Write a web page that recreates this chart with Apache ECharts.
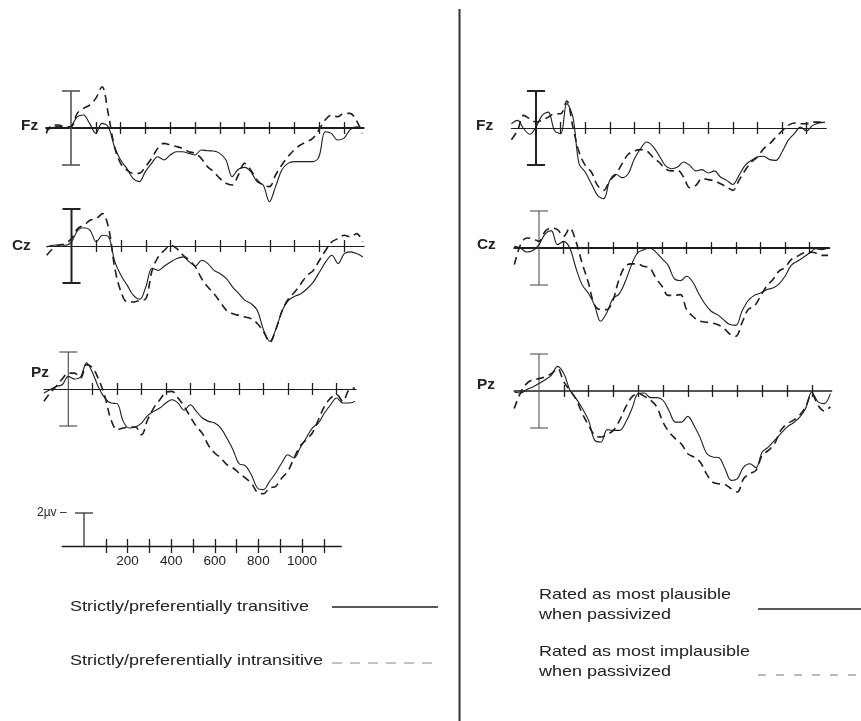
<!DOCTYPE html>
<html>
<head>
<meta charset="utf-8">
<script src="https://cdn.jsdelivr.net/npm/echarts@6/dist/echarts.min.js"></script>
<style>html,body{margin:0;padding:0;background:#fff}#c{width:861px;height:721px}</style>
</head>
<body>
<div id="c"></div>
<script>
// ---- data (ms, µV) ----
const times = [-100,-75,-50,-25,0,25,50,75,100,125,150,175,200,225,250,275,300,325,350,375,400,425,450,475,500,525,550,575,600,625,650,675,700,725,750,775,800,825,850,875,900,925,950,975,1000,1025,1050,1075,1100,1125,1150,1175];
const tickTimes = [100,200,300,400,500,600,700,800,900,1000,1100];
const scaleLabels = [200,400,600,800,1000];
const calibRange = [-2, 2];
const scaleBarRange = [0, 2];

const leftFzSolid = [-0.1,0,0.1,0,0.1,0.6,0.7,0.25,-0.29,0.25,0.07,-1.0,-1.73,-2.18,-2.72,-2.9,-2.36,-1.91,-1.55,-1.73,-1.46,-1.28,-1.28,-1.37,-1.46,-1.19,-1.23,-1.24,-1.37,-1.73,-2.63,-2.23,-2.13,-2.36,-2.9,-3.08,-3.98,-3.17,-2.27,-1.91,-1.82,-1.82,-1.82,-1.82,-1.55,-0.2,-0.29,-0.65,-0.56,-0.1,0.07,0];
const leftFzDashed = [-0.29,0.16,0.16,0.07,0.07,0.79,1.06,1.24,1.6,2.23,0.79,-1.0,-1.91,-2.27,-2.45,-2.45,-2.09,-1.64,-1.1,-0.83,-0.92,-1.0,-1.1,-1.28,-1.37,-1.64,-2.09,-2.36,-2.72,-2.99,-3.08,-2.54,-1.91,-2.27,-2.81,-3.08,-3.17,-2.54,-2.0,-1.55,-1.19,-0.92,-0.74,-0.56,-0.1,0.43,0.7,0.61,0.79,0.79,0.43,-0.29];
const leftCzSolid = [-0.05,0.04,0.07,0.04,0.22,0.85,0.99,0.85,0.22,0.58,0.49,-0.86,-1.59,-2.13,-2.67,-2.88,-2.2,-1.2,-1.32,-1.08,-0.86,-0.68,-0.59,-0.86,-1.08,-0.77,-0.95,-1.32,-1.5,-1.77,-2.22,-2.58,-2.94,-3.12,-3.5,-4.56,-5.15,-4.47,-3.48,-2.94,-2.72,-2.58,-2.31,-1.95,-1.41,-0.86,-0.5,-0.95,-0.41,-0.32,-0.41,-0.59];
const leftCzDashed = [-0.5,-0.14,0.04,0.13,0.4,0.94,1.12,1.39,1.48,1.75,0.94,-1.23,-2.49,-3.03,-3.03,-2.94,-2.85,-1.32,-0.59,-0.23,0.04,-0.14,-0.5,-0.77,-1.14,-1.77,-2.22,-2.58,-3.03,-3.48,-3.66,-3.75,-3.84,-3.93,-4.2,-4.65,-5.19,-4.47,-3.48,-2.85,-2.49,-2.04,-1.59,-1.32,-0.77,-0.23,0.22,0.4,0.58,0.49,0.67,0.22];
const leftPzSolid = [-0.22,-0.04,0.14,0.23,0.68,0.54,0.65,1.41,0.86,0.05,-0.49,-0.76,-0.79,-1.75,-2.11,-2.05,-1.84,-1.44,-1.21,-1.03,-0.76,-0.58,-0.76,-1.15,-0.85,-1.21,-1.57,-1.75,-1.84,-2.11,-2.65,-3.28,-4.04,-4.14,-4.63,-5.35,-5.44,-4.99,-4.54,-4.0,-3.55,-3.73,-3.19,-2.65,-2.11,-1.84,-1.3,-0.85,-0.49,-0.76,-0.76,-0.67];
const leftPzDashed = [-0.67,-0.22,0.14,0.54,0.86,0.86,0.59,1.32,1.14,0.5,-0.4,-1.66,-2.2,-2.11,-2.05,-2.05,-2.47,-1.66,-1.03,-0.58,-0.18,-0.13,-0.49,-0.94,-1.51,-2.02,-2.41,-3.06,-3.46,-3.73,-4.09,-4.27,-4.54,-4.81,-5.08,-5.59,-5.66,-5.35,-5.26,-4.81,-4.45,-3.73,-3.1,-2.74,-2.38,-1.66,-0.94,-0.49,-0.31,-0.67,-0.04,0.05];
const rightFzSolid = [0.23,0.41,-0.04,-0.34,0.05,0.68,0.86,-0.13,-0.31,1.32,0.59,-1.93,-2.38,-3.01,-3.64,-3.82,-2.83,-2.5,-2.68,-2.47,-1.66,-1.12,-0.76,-0.99,-1.48,-2.02,-2.2,-2.11,-1.84,-2.02,-2.32,-2.25,-2.43,-2.32,-2.65,-2.83,-3.05,-2.56,-2.02,-1.75,-1.57,-1.53,-1.71,-1.75,-1.3,-0.67,-0.31,0.05,-0.16,0.14,0.27,0.32];
const rightFzDashed = [-0.63,-0.13,0.68,0.5,0.32,0.41,0.59,0.77,0.77,1.46,0.05,-1.3,-2.02,-2.38,-3.1,-3.37,-2.83,-2.5,-1.93,-1.42,-1.24,-1.17,-1.24,-1.57,-1.84,-2.2,-2.32,-2.29,-2.65,-3.23,-3.1,-2.74,-2.79,-2.86,-3.01,-3.19,-3.37,-2.83,-2.29,-1.84,-1.57,-1.12,-0.85,-0.49,-0.16,0.14,0.27,0.23,0.23,0.32,0.32,0.27];
const rightCzSolid = [0.09,0,-0.22,-0.14,0.18,0.76,0.94,0.18,0.36,0,-1.08,-1.98,-2.43,-3.06,-3.96,-3.51,-2.74,-2.49,-1.84,-0.94,-0.27,-0.09,0,-0.22,-0.58,-0.94,-1.66,-1.77,-1.53,-1.84,-2.49,-3.03,-3.42,-3.6,-3.87,-4.14,-4.18,-3.42,-2.85,-2.56,-2.43,-2.25,-2.16,-1.95,-1.53,-0.94,-0.72,-0.5,-0.27,-0.04,-0.09,0];
const rightCzDashed = [-0.9,0.18,0.54,0.5,0.36,0.9,1.08,0.99,0.63,1.08,0.36,-0.81,-1.84,-3.06,-3.33,-3.33,-2.85,-1.71,-0.99,-0.86,-0.86,-0.99,-1.08,-1.62,-2.07,-2.56,-2.56,-2.52,-3.33,-3.69,-3.93,-4.0,-4.05,-4.14,-4.32,-4.65,-4.77,-4.05,-3.33,-3.15,-2.61,-2.07,-1.71,-1.26,-1.05,-0.63,-0.45,-0.27,-0.22,-0.27,-0.4,-0.4];
const rightPzSolid = [-0.05,-0.11,0.07,0.22,0.4,0.61,0.85,1.33,0.94,0.04,-0.41,-0.95,-1.59,-2.67,-2.76,-2.09,-2.13,-2.13,-1.68,-0.95,-0.14,-0.11,-0.36,-0.36,-0.5,-1.08,-1.68,-1.68,-1.37,-1.86,-2.52,-3.35,-3.57,-3.6,-4.2,-4.83,-4.74,-4.11,-3.93,-4.14,-3.3,-3.03,-2.67,-2.31,-1.95,-1.73,-1.44,-0.95,-0.05,-0.59,-0.68,-0.14];
const rightPzDashed = [-0.95,-0.11,0.4,0.61,0.67,0.76,0.94,1.21,0.49,0.04,-0.47,-1.23,-1.86,-2.4,-2.49,-2.34,-2.13,-1.59,-0.86,-0.32,-0.14,-0.29,-0.5,-0.86,-1.68,-2.22,-2.58,-2.88,-3.39,-3.57,-3.84,-4.47,-4.92,-5.01,-5.05,-5.28,-5.46,-4.74,-4.47,-4.29,-3.48,-3.21,-2.85,-2.13,-1.77,-1.59,-1.32,-0.86,-0.14,-0.77,-1.08,-0.86];

const leftLegend = ['Strictly/preferentially transitive', 'Strictly/preferentially intransitive'];
const rightLegend = [['Rated as most plausible', 'when passivized'], ['Rated as most implausible', 'when passivized']];

// ---- layout ----
const INK = '#1e1e1e';
const panels = [
  {label:'Fz', solid:leftFzSolid,  dashed:leftFzDashed,  left:46.2, width:317.4, top:72.5,  lx:21,  ly:126, axisW:2.0, barW:1.6, barC:'#555'},
  {label:'Cz', solid:leftCzSolid,  dashed:leftCzDashed,  left:46.7, width:317.4, top:190.5, lx:12,  ly:246, axisW:1.2, barW:2.0, barC:'#222'},
  {label:'Pz', solid:leftPzSolid,  dashed:leftPzDashed,  left:43.9, width:312.3, top:333.5, lx:31,  ly:373, axisW:1.2, barW:1.1, barC:'#444'},
  {label:'Fz', solid:rightFzSolid, dashed:rightFzDashed, left:511.4,width:314.9, top:72.5,  lx:476, ly:126, axisW:1.2, barW:2.0, barC:'#222'},
  {label:'Cz', solid:rightCzSolid, dashed:rightCzDashed, left:514.4,width:314.9, top:192.5, lx:477, ly:245, axisW:2.0, barW:1.1, barC:'#555'},
  {label:'Pz', solid:rightPzSolid, dashed:rightPzDashed, left:514.2,width:317.4, top:335.5, lx:477, ly:385, axisW:1.5, barW:1.1, barC:'#555'}
];
const K = 18.5; // px per µV
const yMin = -7, yMax = 3;

const grid = [], xAxis = [], yAxis = [], series = [];
const pairs = arr => times.map((t, i) => [t, arr[i]]);

function barRender(capTop, capBottom, color, w) {
  return function (params, api) {
    const x = api.value(0);
    const lo = api.coord([x, api.value(1)]);
    const hi = api.coord([x, api.value(2)]);
    const c = 9;
    const style = {stroke: color, lineWidth: w};
    const ch = [{type:'line', shape:{x1:lo[0], y1:lo[1], x2:hi[0], y2:hi[1]}, style}];
    if (capTop) ch.push({type:'line', shape:{x1:hi[0]-c, y1:hi[1], x2:hi[0]+c, y2:hi[1]}, style});
    if (capBottom) ch.push({type:'line', shape:{x1:lo[0]-c, y1:lo[1], x2:lo[0]+c, y2:lo[1]}, style});
    return {type:'group', children: ch};
  };
}

// two x axes per grid (ticks down + ticks up), each anchored on zero of its own y axis
function addAxes(gi, yLo, yHi, lineW, tickLen, labelOpt) {
  const yA = yAxis.length;
  yAxis.push({gridIndex:gi, type:'value', min:yLo, max:yHi, show:false, position:'left', splitLine:{show:false}});
  yAxis.push({gridIndex:gi, type:'value', min:yLo, max:yHi, show:false, position:'right', splitLine:{show:false}});
  const xA = xAxis.length;
  xAxis.push({
    gridIndex:gi, type:'value', min:-100, max:1180, position:'bottom',
    axisLine:{show:true, onZero:true, onZeroAxisIndex:yA, lineStyle:{color:INK, width:lineW}},
    axisTick:{show:true, inside:false, length:tickLen, customValues:tickTimes, lineStyle:{color:INK, width:1.3}},
    axisLabel: labelOpt || {show:false}, splitLine:{show:false}
  });
  xAxis.push({
    gridIndex:gi, type:'value', min:-100, max:1180, position:'top',
    axisLine:{show:false, onZero:true, onZeroAxisIndex:yA + 1},
    axisTick:{show:true, inside:false, length:tickLen, customValues:tickTimes, lineStyle:{color:INK, width:1.3}},
    axisLabel:{show:false}, splitLine:{show:false}
  });
  return {xA, yA};
}

panels.forEach((p, i) => {
  grid.push({left:p.left, top:p.top, width:p.width, height:(yMax - yMin) * K, containLabel:false, outerBoundsMode:'none'});
  const {xA, yA} = addAxes(i, yMin, yMax, p.axisW, 6, null);
  series.push({type:'line', xAxisIndex:xA, yAxisIndex:yA, data:pairs(p.solid), showSymbol:false, smooth:0.35,
    lineStyle:{color:INK, width:1.1}, silent:true, z:3});
  series.push({type:'line', xAxisIndex:xA, yAxisIndex:yA, data:pairs(p.dashed), showSymbol:false, smooth:0.35,
    lineStyle:{color:INK, width:1.6, type:[8,5]}, silent:true, z:3});
  series.push({type:'custom', xAxisIndex:xA, yAxisIndex:yA, data:[[0, calibRange[0], calibRange[1]]],
    renderItem: barRender(true, true, p.barC, p.barW), silent:true, z:2});
});

// scale bar grid
const si = panels.length;
grid.push({left:62.2, top:513, width:279, height:33, containLabel:false, outerBoundsMode:'none'});
const sc = addAxes(si, scaleBarRange[0], scaleBarRange[1], 1.4, 7,
  {show:true, customValues:scaleLabels, margin:8, color:'#222', fontSize:13.5,
   fontFamily:'Liberation Sans, Arial, sans-serif', formatter: v => String(v)});
series.push({type:'custom', xAxisIndex:sc.xA, yAxisIndex:sc.yA, data:[[0, scaleBarRange[0], scaleBarRange[1]]],
  renderItem: barRender(true, false, '#333', 1.3), silent:true});

// ---- graphic: labels, legends, divider ----
const FONT = 'Liberation Sans, Arial, Helvetica, sans-serif';
const graphic = [];
graphic.push({type:'line', shape:{x1:459.5, y1:9, x2:459.5, y2:721}, style:{stroke:'#333', lineWidth:2}});
panels.forEach(p => {
  graphic.push({type:'text', x:p.lx, y:p.ly, scaleX:1.1,
    style:{text:p.label, font:'bold 14px ' + FONT, fill:'#222', verticalAlign:'middle'}});
});
graphic.push({type:'text', x:37, y:513, style:{text:'2\u00b5v \u2013', font:'12px ' + FONT, fill:'#222', verticalAlign:'middle'}});
// left legend
graphic.push({type:'text', x:70, y:607, scaleX:1.2, style:{text:leftLegend[0], font:'15px ' + FONT, fill:'#222', verticalAlign:'middle'}});
graphic.push({type:'line', shape:{x1:332, y1:607, x2:438, y2:607}, style:{stroke:'#222', lineWidth:1.3}});
graphic.push({type:'text', x:70, y:661, scaleX:1.2, style:{text:leftLegend[1], font:'15px ' + FONT, fill:'#222', verticalAlign:'middle'}});
graphic.push({type:'line', shape:{x1:332, y1:663, x2:440, y2:663}, style:{stroke:'#888', lineWidth:1.1, lineDash:[10,8]}});
// right legend
graphic.push({type:'text', x:539, y:595, scaleX:1.2, style:{text:rightLegend[0][0], font:'15px ' + FONT, fill:'#222', verticalAlign:'middle'}});
graphic.push({type:'text', x:539, y:615, scaleX:1.2, style:{text:rightLegend[0][1], font:'15px ' + FONT, fill:'#222', verticalAlign:'middle'}});
graphic.push({type:'line', shape:{x1:758, y1:609, x2:861, y2:609}, style:{stroke:'#222', lineWidth:1.3}});
graphic.push({type:'text', x:539, y:652, scaleX:1.2, style:{text:rightLegend[1][0], font:'15px ' + FONT, fill:'#222', verticalAlign:'middle'}});
graphic.push({type:'text', x:539, y:672, scaleX:1.2, style:{text:rightLegend[1][1], font:'15px ' + FONT, fill:'#222', verticalAlign:'middle'}});
graphic.push({type:'line', shape:{x1:758, y1:675, x2:861, y2:675}, style:{stroke:'#777', lineWidth:1.1, lineDash:[8,10]}});

const chart = echarts.init(document.getElementById('c'), null, {renderer:'canvas'});
chart.setOption({
  backgroundColor:'#fff',
  animation:false,
  grid, xAxis, yAxis, series, graphic
});
</script>
</body>
</html>
